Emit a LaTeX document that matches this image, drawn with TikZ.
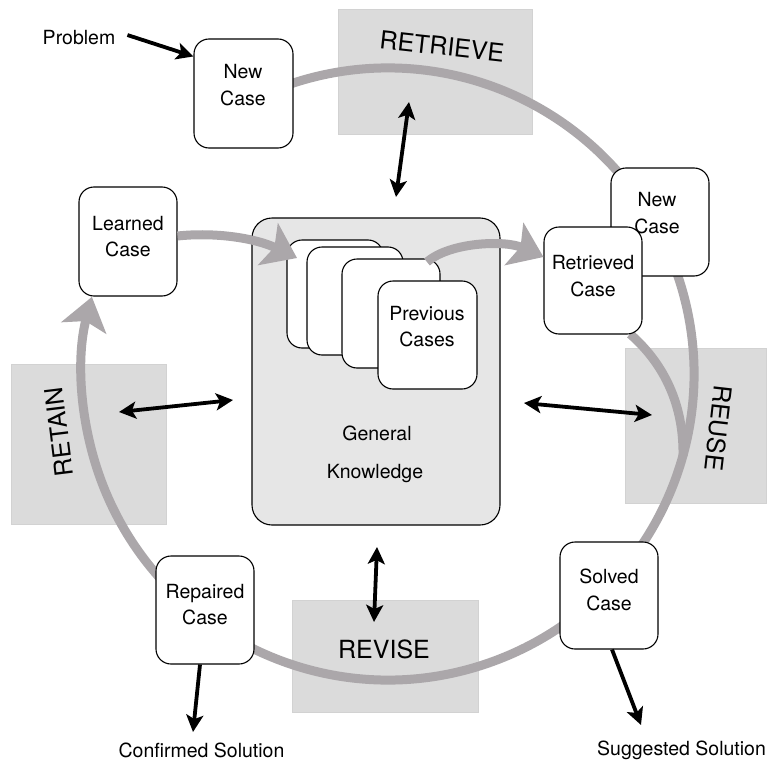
\documentclass[tikz,border=0pt]{standalone}
\usepackage{fontspec}
\setmainfont{TeX Gyre Heros}
\usetikzlibrary{arrows.meta,calc}
\definecolor{flowgray}{HTML}{ABA7AA}
\definecolor{stagegray}{HTML}{DBDBDB}
\definecolor{stageedge}{HTML}{D2D2D2}
\definecolor{kngray}{HTML}{E6E6E6}
\tikzset{
  casebox/.style={draw=black, fill=white, line width=1.1pt, rounded corners=15pt,
    minimum width=98pt, minimum height=108pt, inner sep=0pt},
  casetext/.style={font=\fontsize{19.5}{26.5}\selectfont, align=center, inner sep=0pt},
  plaintext/.style={font=\fontsize{19.5}{26.5}\selectfont, inner sep=0pt},
  stagebox/.style={fill=stagegray, draw=stageedge, line width=0.8pt},
  stagetext/.style={font=\fontsize{25}{30}\selectfont, inner sep=0pt},
  flow/.style={draw=flowgray, line width=9pt},
  flowarrow/.style={flow, -{Stealth[length=32pt,width=46pt,inset=7pt]}},
  blk/.style={draw=black, line width=3.8pt, -{Stealth[length=17pt,width=17pt,inset=4pt]}},
  blkboth/.style={draw=black, line width=3.8pt, {Stealth[length=17pt,width=17pt,inset=4pt]}-{Stealth[length=17pt,width=17pt,inset=4pt]}},
}
\begin{document}
\begin{tikzpicture}[x=1pt,y=1pt]
\useasboundingbox (0,0) rectangle (768,-760);

% stage boxes
\draw[stagebox] (338,-9) rectangle (532,-134);
\draw[stagebox] (625,-348) rectangle (766,-503);
\draw[stagebox] (11,-364) rectangle (166,-524);
\draw[stagebox] (292,-600) rectangle (478,-712);
\node[stagetext, rotate=-6.3] (tretrieve) at (442,-46) {RETRIEVE};
\node[stagetext, rotate=-96.5] (treuse) at (719,-428) {REUSE};
\node[stagetext, rotate=97] (tretain) at (59,-432) {RETAIN};
\node[stagetext] (trevise) at (384,-649) {REVISE};

% main cycle
\coordinate (cc) at (388,-374);
\draw[flowarrow] (cc) ++(110:306) arc[start angle=110, end angle=-194.6, radius=306];
\draw[flow] (630,-334) .. controls (660,-360) and (684,-400) .. (683,-456);

% general knowledge
\node[draw=black, fill=kngray, line width=1.1pt, rounded corners=20pt,
  minimum width=248pt, minimum height=307pt] (kn) at (376,-371.5) {};
\node[casebox, minimum width=96pt] (c1) at (335,-294) {};
\node[casebox, minimum width=96pt] (c2) at (355,-301) {};
\node[casebox, minimum height=109pt] (c3) at (391,-313.5) {};
\node[casebox, minimum width=99pt] (c4) at (427.5,-335) {};
\node[casetext] (c4t) at (427,-326.5) {Previous\\Cases};
\node[plaintext, anchor=base] (kn1) at (377,-440) {General};
\node[plaintext, anchor=base] (kn2) at (375,-478) {Knowledge};

% case boxes
\node[casebox, minimum width=99pt, minimum height=109pt] (nc) at (243.5,-93.5) {};
\node[casetext] (nct) at (243,-85) {New\\Case};
\node[casebox] (nc2) at (660,-222) {};
\node[casetext] (nc2t) at (657,-213) {New\\Case};
\node[casebox, minimum height=107pt] (ret) at (593,-280.5) {};
\node[casetext] (rett) at (593,-276) {Retrieved\\Case};
\node[casebox, minimum height=107pt] (sol) at (609,-595.5) {};
\node[casetext] (solt) at (609,-590) {Solved\\Case};
\node[casebox] (rep) at (205,-610) {};
\node[casetext] (rept) at (205,-604.5) {Repaired\\Case};
\node[casebox, minimum height=109pt] (lrn) at (128,-241.5) {};
\node[casetext] (lrnt) at (128,-236.5) {Learned\\Case};

% gray flow arrows
\draw[flowarrow] (lrn.east |- 0,-236) .. controls (215,-232) and (255,-238) .. (297,-258);
\draw[flowarrow] (427,-262) .. controls (450,-242) and (505,-240) .. (ret.west |- 0,-257);

% free texts
\node[plaintext, anchor=base] (prob) at (79,-45) {Problem};
\node[plaintext, anchor=base] (conf) at (201.5,-757) {Confirmed Solution};
\node[plaintext, anchor=base] (sugg) at (681.5,-755) {Suggested Solution};

% black arrows
\coordinate (probend) at ($(nc.north west)+(0,-18)$);
\draw[blk] ($(prob.east)+(12,3)$) -- (probend);
\coordinate (r1) at (409,-102);
\coordinate (r2) at (396,-197);
\draw[blkboth] (r1) -- (r2);
\coordinate (a1) at (119,-412);
\coordinate (a2) at (233,-400);
\draw[blkboth] (a1) -- (a2);
\coordinate (u1) at (524,-403);
\coordinate (u2) at (652,-415);
\draw[blkboth] (u1) -- (u2);
\coordinate (v1) at (377,-547);
\coordinate (v2) at (374,-622);
\draw[blkboth] (v1) -- (v2);
\coordinate (confend) at (193,-732);
\draw[blk] ($(rep.south)+(-5,0)$) -- (confend);
\coordinate (suggend) at (641,-725);
\draw[blk] ($(sol.south)+(3,0)$) -- (suggend);
\end{tikzpicture}
\end{document}
